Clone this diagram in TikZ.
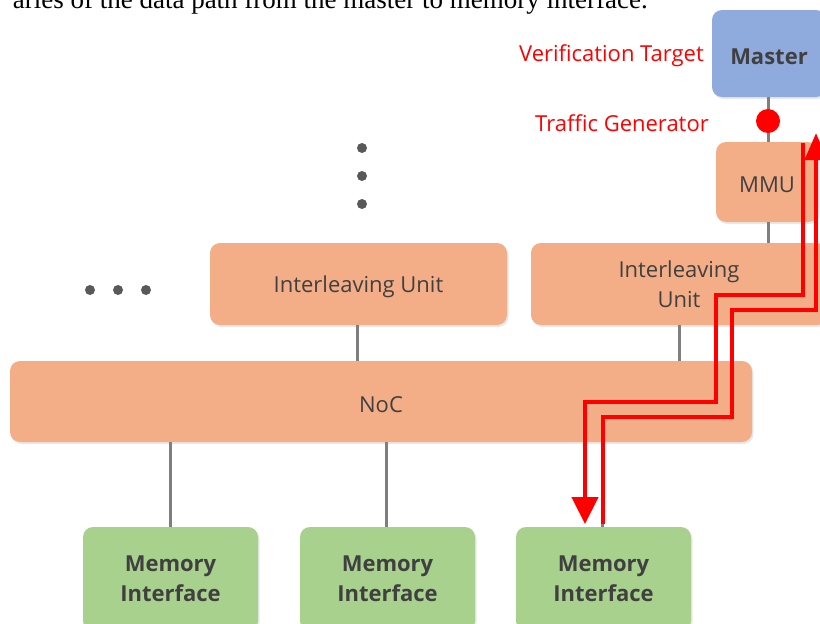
\documentclass[tikz,border=0pt]{standalone}
\usepackage{fontspec}
\setmainfont{Open Sans}
\newfontfamily\docserif{Liberation Serif}
\usetikzlibrary{arrows.meta,shadows,calc}
\definecolor{boxorange}{HTML}{F3AE87}
\definecolor{boxgreen}{HTML}{A9D18E}
\definecolor{boxblue}{HTML}{8FAADC}
\definecolor{txtgray}{HTML}{404040}
\definecolor{wiregray}{HTML}{7F7F7F}
\definecolor{dotgray}{HTML}{595959}
% one-line labels sit a little below the box centre
\newcommand{\lowtext}[1]{\raisebox{-3pt}[\height][\depth]{#1}}
\tikzset{
  blk/.style={rounded corners=10pt, inner sep=0pt, align=center, text=txtgray,
    font=\fontsize{22}{30}\selectfont,
    drop shadow={opacity=0.18, shadow xshift=1.5pt, shadow yshift=-2pt}},
  orangebox/.style={blk, fill=boxorange},
  greenbox/.style={blk, fill=boxgreen, font=\fontsize{22}{30}\selectfont\bfseries},
  bluebox/.style={blk, fill=boxblue, font=\fontsize{22}{30}\selectfont\bfseries},
  wire/.style={draw=wiregray, line width=3pt},
  redpath/.style={draw=red, line width=4.5pt, line join=miter},
  redlabel/.style={text=red, font=\fontsize{22}{26}\selectfont, inner sep=0pt},
  ellipsisdot/.style={circle, fill=dotgray, inner sep=0pt, minimum size=10pt}
}
\begin{document}
\begin{tikzpicture}[x=1pt, y=-1pt]
\useasboundingbox (0,0) rectangle (820,624);
\fill[white] (0,0) rectangle (820,624);

% running text of the page above the figure
\node[anchor=base east, inner sep=0pt, font=\docserif\fontsize{27}{30}\selectfont] (caption)
  at (648,8) {aries of the data path from the master to memory interface.};

% blocks
\node[bluebox, minimum width=114pt, minimum height=87pt] (master) at (769,53.5) {\lowtext{Master}};
\node[orangebox, minimum width=102pt, minimum height=80pt] (mmu) at (767,182) {\lowtext{MMU}};
\node[orangebox, minimum width=297pt, minimum height=82pt] (iu1) at (358.5,284) {\lowtext{Interleaving Unit}};
\node[orangebox, minimum width=296pt, minimum height=82pt] (iu2) at (679,284) {Interleaving\\Unit};
\node[orangebox, minimum width=742pt, minimum height=81pt] (noc) at (381,401.5) {\lowtext{NoC}};
\node[greenbox, minimum width=175pt, minimum height=104pt] (mi1) at (170.5,579) {Memory\\Interface};
\node[greenbox, minimum width=175pt, minimum height=104pt] (mi2) at (387.5,579) {Memory\\Interface};
\node[greenbox, minimum width=175pt, minimum height=104pt] (mi3) at (603.5,579) {Memory\\Interface};

% wires between blocks
\coordinate (mtap) at (768,0);
\coordinate (iu1tap) at (357,0);
\coordinate (mi2tap) at (386,0);
\coordinate (mi3tap) at (602,0);
\draw[wire] (mtap |- master.south) -- (mtap |- mmu.north);
\draw[wire] (mtap |- mmu.south) -- (mtap |- iu2.north);
\draw[wire] (iu1tap |- iu1.south) -- (iu1tap |- noc.north);
\draw[wire] (iu2.south) -- (iu2.south |- noc.north);
\draw[wire] (mi1.north |- noc.south) -- (mi1.north);
\draw[wire] (mi2tap |- noc.south) -- (mi2tap |- mi2.north);
\draw[wire] (mi3tap |- noc.south) -- (mi3tap |- mi3.north);

% traffic generator probe
\node[circle, fill=red, inner sep=0pt, minimum size=24pt] (tg) at (768,121) {};

% labels
\node[redlabel, anchor=east] (vtlabel) at (704,56) {Verification Target};
\node[redlabel, anchor=east] (tglabel) at (709,123) {Traffic Generator};

% ellipses
\node[ellipsisdot] (vd1) at (362,148) {};
\node[ellipsisdot] (vd2) at (362,176) {};
\node[ellipsisdot] (vd3) at (362,204) {};
\node[ellipsisdot] (hd1) at (90,290) {};
\node[ellipsisdot] (hd2) at (118,290) {};
\node[ellipsisdot] (hd3) at (146,290) {};

% request path: master down to memory interface
\coordinate (reqstart) at (803,143);
\coordinate (reqend) at (585,524);
\draw[redpath, -{Triangle[length=27pt, width=26pt]}]
  (reqstart) -- (803,295) -- (716,295) -- (716,402) -- (585,402) -- (reqend);

% response path: memory interface back up to master
\coordinate (rspstart) at (603,524);
\coordinate (rspend) at (816,133);
\draw[redpath, -{Triangle[length=27pt, width=22pt]}]
  (rspstart) -- (603,417) -- (732,417) -- (732,310) -- (816,310) -- (rspend);
\end{tikzpicture}
\end{document}
